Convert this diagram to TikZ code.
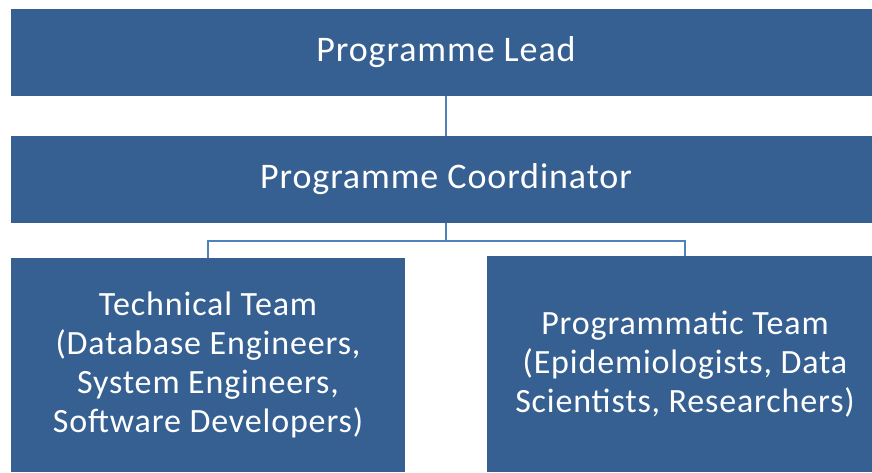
\documentclass[tikz,border=0pt]{standalone}
\usepackage{fontspec}
\setmainfont{Carlito}[LetterSpace=2.5]
\usepackage{tikz}
\usetikzlibrary{positioning,calc}
\definecolor{orgblue}{RGB}{54,96,146}
\definecolor{linkblue}{RGB}{79,129,189}
\tikzset{
  obox/.style={fill=orgblue, draw=none, text=white, align=center, inner sep=0pt,
    font=\fontsize{36}{39}\selectfont},
  tbox/.style={obox, font=\fontsize{34}{39}\selectfont},
  olink/.style={linkblue, line width=2.4pt},
}

\begin{document}
\begin{tikzpicture}[x=1pt, y=-1pt]
\useasboundingbox (0,0) rectangle (872,472);
% header boxes
\node[obox, minimum width=870pt, minimum height=87pt] (lead) at (446,52.5) {Programme Lead};
\node[obox, minimum width=870pt, minimum height=87pt] (coord) at (446,179.5) {Programme Coordinator};
% team boxes
\node[tbox, minimum width=394pt, minimum height=214pt] (tech) at (208,365)
  {Technical Team\\(Database Engineers,\\System Engineers,\\Software Developers)};
\node[tbox, minimum width=396pt, minimum height=216pt] (prog) at (685,364)
  {Programmatic Team\\(Epidemiologists, Data\\Scientists, Researchers)};
% links
\coordinate (split) at ($(coord.south)+(0,18)$);
\draw[olink] (lead.south) -- (coord.north);
\draw[olink] (coord.south) -- (split) -| (tech.north);
\draw[olink] (split) -| (prog.north);
\end{tikzpicture}
\end{document}
